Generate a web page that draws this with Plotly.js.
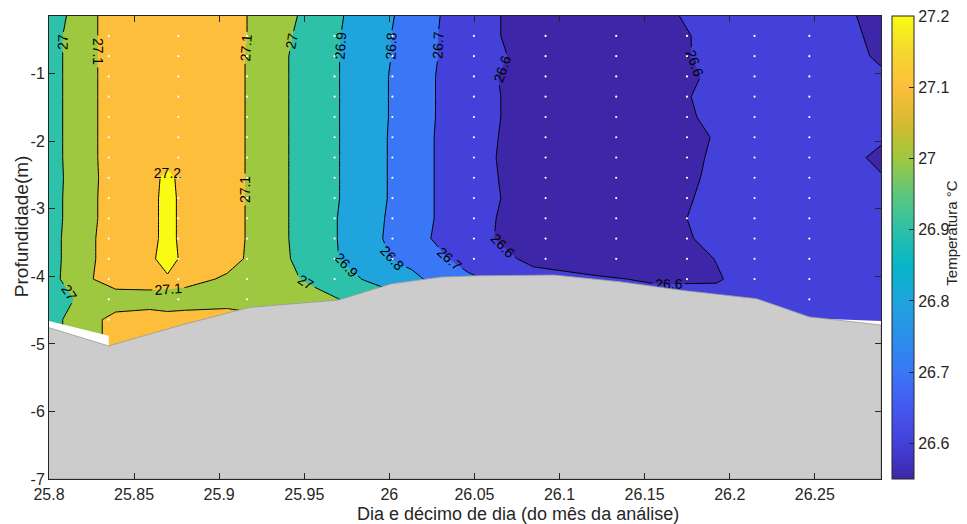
<!DOCTYPE html>
<html>
<head>
<meta charset="utf-8">
<script src="https://cdn.plot.ly/plotly-3.0.1.min.js"></script>
<style>
  html, body { margin: 0; padding: 0; background: #fff; }
  #chart { width: 967px; height: 524px; }
</style>
</head>
<body>
<div id="chart"></div>
<script>
// ---- data ----
const times = [25.8, 25.8181, 25.8392, 25.8591, 25.8696, 25.8801, 25.9047, 25.9257, 25.9561, 25.9854,
               26.0135, 26.0462, 26.0848, 26.1222, 26.1573, 26.1924, 26.2275, 26.2626, 26.2889];
const depths = [-0.145, -0.44, -0.74, -1.04, -1.34, -1.64, -1.94, -2.24, -2.54, -2.84,
                -3.14, -3.44, -3.74, -4.04, -4.34, -4.64, -4.94, -5.24];
const temps = [
  [26.935, 27.05, 27.15, 27.17, 27.18, 27.17, 27.15, 27.06, 26.97, 26.85, 26.77, 26.63, 26.57, 26.55, 26.57, 26.65, 26.65, 26.625, 26.57],
  [26.96, 27.05, 27.15, 27.17, 27.18, 27.17, 27.15, 27.06, 26.955, 26.85, 26.76, 26.63, 26.57, 26.55, 26.56, 26.63, 26.64, 26.63, 26.58],
  [26.96, 27.05, 27.15, 27.17, 27.18, 27.17, 27.15, 27.05, 26.95, 26.85, 26.76, 26.63, 26.58, 26.55, 26.56, 26.63, 26.64, 26.63, 26.59],
  [26.96, 27.05, 27.15, 27.17, 27.18, 27.17, 27.15, 27.05, 26.95, 26.85, 26.75, 26.63, 26.565, 26.55, 26.56, 26.615, 26.64, 26.63, 26.61],
  [26.96, 27.05, 27.15, 27.17, 27.18, 27.17, 27.15, 27.05, 26.95, 26.85, 26.75, 26.63, 26.57, 26.55, 26.56, 26.63, 26.64, 26.63, 26.615],
  [26.96, 27.05, 27.15, 27.17, 27.18, 27.17, 27.15, 27.05, 26.95, 26.85, 26.75, 26.63, 26.57, 26.55, 26.56, 26.62, 26.64, 26.63, 26.62],
  [26.96, 27.05, 27.15, 27.17, 27.18, 27.17, 27.15, 27.05, 26.95, 26.85, 26.745, 26.63, 26.565, 26.55, 26.56, 26.605, 26.64, 26.63, 26.61],
  [26.96, 27.05, 27.15, 27.17, 27.18, 27.17, 27.15, 27.05, 26.95, 26.85, 26.745, 26.63, 26.56, 26.55, 26.56, 26.61, 26.64, 26.63, 26.585],
  [26.96, 27.045, 27.15, 27.18, 27.214, 27.18, 27.15, 27.05, 26.95, 26.85, 26.745, 26.63, 26.565, 26.55, 26.56, 26.615, 26.64, 26.63, 26.605],
  [26.96, 27.05, 27.15, 27.18, 27.22, 27.18, 27.15, 27.05, 26.95, 26.85, 26.745, 26.63, 26.57, 26.55, 26.56, 26.625, 26.64, 26.63, 26.62],
  [26.96, 27.05, 27.15, 27.18, 27.22, 27.18, 27.15, 27.05, 26.95, 26.84, 26.745, 26.63, 26.56, 26.55, 26.57, 26.63, 26.64, 26.63, 26.62],
  [26.96, 27.06, 27.15, 27.18, 27.22, 27.18, 27.15, 27.05, 26.95, 26.84, 26.735, 26.63, 26.555, 26.55, 26.56, 26.625, 26.64, 26.63, 26.62],
  [26.96, 27.06, 27.15, 27.185, 27.23, 27.18, 27.15, 27.04, 26.965, 26.83, 26.775, 26.66, 26.58, 26.55, 26.56, 26.602, 26.64, 26.64, 26.63],
  [26.96, 27.07, 27.15, 27.17, 27.19, 27.15, 27.08, 27.05, 26.98, 26.895, 26.82, 26.72, 26.63, 26.61, 26.59, 26.595, 26.64, 26.65, 26.64],
  [26.96, 27.01, 27.05, 27.04, 27.01, 27.03, 27.05, 27.05, 27.03, 26.97, 26.905, 26.81, 26.71, 26.66, 26.63, 26.62, 26.64, 26.65, 26.65],
  [26.96, 27.05, 27.13, 27.16, 27.16, 27.16, 27.16, 27.12, 27.05, 26.98, 26.91, 26.81, 26.72, 26.68, 26.66, 26.65, 26.65, 26.65, 26.65],
  [26.96, 27.05, 27.13, 27.16, 27.16, 27.16, 27.16, 27.12, 27.05, 26.98, 26.91, 26.81, 26.72, 26.68, 26.66, 26.65, 26.65, 26.65, 26.65],
  [26.96, 27.05, 27.13, 27.16, 27.16, 27.16, 27.16, 27.12, 27.05, 26.98, 26.91, 26.81, 26.72, 26.68, 26.66, 26.65, 26.65, 26.65, 26.65]
];
// drawn isotherms: 26.6 ... 27.2 every 0.1 (the level list is padded on both sides,
// outside the data range, only so that Plotly places labels more densely)
const shownLevels = [26.6, 26.7, 26.8, 26.9, 27.0, 27.1, 27.2];
const levelStep = 0.1;
const levelPadBelow = 45, levelPadAbove = 39;
const colorRange = [26.55, 27.2];

// seabed (bottom) profile
const seabedTimes  = [25.8, 25.8351, 25.8778, 25.9175, 25.9702, 26.0012, 26.0304, 26.052, 26.0971, 26.1357, 26.1731, 26.2158, 26.2468, 26.2889];
const seabedDepths = [-4.76, -5.03, -4.72, -4.46, -4.35, -4.11, -4.01, -3.99, -3.98, -4.08, -4.21, -4.33, -4.60, -4.72];
// lower limit of the measured (coloured) section
const dataBottomTimes  = [25.8, 25.8351, 25.8351, 26.2468, 26.2889];
const dataBottomDepths = [-4.66, -4.88, -5.03, -4.62, -4.66];

// measurement points (white dots)
const dotTimes  = [25.8351, 25.8760, 25.9164, 25.9678, 26.0018, 26.0497, 26.0918, 26.1333, 26.1749, 26.2146, 26.2468];
const dotDepths = [-0.44, -0.74, -1.04, -1.34, -1.64, -1.94, -2.24, -2.54, -2.84, -3.14, -3.44, -3.74, -4.04, -4.34, -4.64];

const xTickVals = [25.8, 25.85, 25.9, 25.95, 26, 26.05, 26.1, 26.15, 26.2, 26.25];
const xTickText = ['25.8', '25.85', '25.9', '25.95', '26', '26.05', '26.1', '26.15', '26.2', '26.25'];
const yTickVals = [-7, -6, -5, -4, -3, -2, -1];
const yTickText = ['-7', '-6', '-5', '-4', '-3', '-2', '-1'];
const cbTickVals = [26.6, 26.7, 26.8, 26.9, 27.0, 27.1, 27.2];
const cbTickText = ['26.6', '26.7', '26.8', '26.9', '27', '27.1', '27.2'];

// ---- styling ----
// colour of the region below 26.6, then of each band above every shown level
const bandColors = ['#3E26A8', '#4440DA', '#3A77F6', '#1FA4DE', '#2CC1A8', '#9DC83F', '#FDBE3C', '#F9FB14'];
const parulaStops = [
  [0.000, '#3E26A8'], [0.077, '#4440DA'], [0.154, '#4558EE'], [0.231, '#3A77F6'],
  [0.308, '#2B8FEA'], [0.385, '#1FA4DE'], [0.460, '#06B6C8'], [0.538, '#2CC1A8'],
  [0.615, '#5EC67D'], [0.692, '#9DC83F'], [0.769, '#D5BB30'], [0.846, '#FDBE3C'],
  [0.923, '#F4D82E'], [1.000, '#F9FB14']
];
const axisColor = '#262626';
const fontFam = 'Liberation Sans, Arial, Helvetica, sans-serif';

// contour level spec and a fill colourscale matched to Plotly's band colouring
const cStart = +(shownLevels[0] - levelPadBelow * levelStep).toFixed(4);
const cEnd = +(shownLevels[shownLevels.length - 1] + levelPadAbove * levelStep).toFixed(4);
const nLev = Math.round((cEnd - cStart) / levelStep) + 1;
const domLo = cStart - levelStep / 2, domSpan = nLev * levelStep;
const fillScale = [[0, bandColors[0]]];
// band colour is sampled at (level + step/2)
const belowLevel = shownLevels[0] - levelStep;
[belowLevel].concat(shownLevels).forEach((L, i) => {
  const s = (L + levelStep / 2 - domLo) / domSpan;
  fillScale.push([s, bandColors[i]]);
});
fillScale.push([1, bandColors[bandColors.length - 1]]);

function seabedAt(t) {
  for (let i = 0; i < seabedTimes.length - 1; i++) {
    if (t >= seabedTimes[i] && t <= seabedTimes[i + 1]) {
      const f = (t - seabedTimes[i]) / (seabedTimes[i + 1] - seabedTimes[i]);
      return seabedDepths[i] + f * (seabedDepths[i + 1] - seabedDepths[i]);
    }
  }
  return seabedDepths[seabedDepths.length - 1];
}
const dx = [], dy = [];
dotTimes.forEach(t => {
  const b = seabedAt(t);
  dotDepths.forEach(d => { if (d > b + 0.12) { dx.push(t); dy.push(d); } });
});

const xMin = times[0], xMax = times[times.length - 1];

const traces = [
  {
    type: 'contour', x: times, y: depths, z: temps,
    autocontour: false,
    contours: {start: cStart, end: cEnd, size: levelStep, coloring: 'fill', showlabels: true,
      labelfont: {family: fontFam, size: 14, color: '#000'}},
    line: {color: '#000', width: 1, smoothing: 0},
    colorscale: fillScale, showscale: false, hoverinfo: 'skip'
  },
  {
    type: 'scatter', mode: 'lines',
    x: dataBottomTimes.concat([xMax, xMin]),
    y: dataBottomDepths.concat([-7, -7]),
    fill: 'toself', fillcolor: '#FFFFFF', line: {width: 0, color: '#FFFFFF'},
    hoverinfo: 'skip', showlegend: false
  },
  {
    type: 'scatter', mode: 'lines',
    x: seabedTimes.concat([xMax, xMin]),
    y: seabedDepths.concat([-7, -7]),
    fill: 'toself', fillcolor: '#CCCCCC', line: {width: 0.8, color: '#9A9A9A'},
    hoverinfo: 'skip', showlegend: false
  },
  {
    type: 'scatter', mode: 'markers', x: dx, y: dy,
    marker: {color: '#FFFFFF', size: 2.2},
    hoverinfo: 'skip', showlegend: false
  },
  {
    type: 'scatter', mode: 'markers', x: [times[1], times[1]], y: [-6.5, -6.5],
    marker: {
      color: colorRange, cmin: colorRange[0], cmax: colorRange[1],
      colorscale: parulaStops, size: 1, opacity: 0, showscale: true,
      colorbar: {
        x: (896 - 49) / 836, xanchor: 'left', xpad: 0,
        y: 0.5, yanchor: 'middle', len: 1, lenmode: 'fraction', ypad: 0,
        thickness: 22, thicknessmode: 'pixels',
        outlinewidth: 1, outlinecolor: axisColor,
        ticks: 'inside', ticklen: 5, tickwidth: 1, tickcolor: axisColor,
        tickvals: cbTickVals, ticktext: cbTickText,
        tickfont: {family: fontFam, size: 16, color: axisColor}
      }
    },
    hoverinfo: 'skip', showlegend: false
  }
];

const layout = {
  width: 967, height: 524,
  margin: {l: 49, r: 82, t: 16, b: 45},
  paper_bgcolor: '#FFFFFF', plot_bgcolor: '#FFFFFF',
  showlegend: false,
  font: {family: fontFam, color: axisColor},
  xaxis: {
    range: [xMin, xMax], tickvals: xTickVals, ticktext: xTickText,
    ticks: 'inside', ticklen: 6, tickcolor: axisColor, tickwidth: 1,
    showline: true, linecolor: axisColor, linewidth: 1, mirror: 'ticks',
    showgrid: false, zeroline: false, ticklabelstandoff: 1,
    tickfont: {size: 16, color: axisColor}
  },
  yaxis: {
    range: [-7, -0.145], tickvals: yTickVals, ticktext: yTickText,
    ticks: 'inside', ticklen: 6, tickcolor: axisColor, tickwidth: 1,
    showline: true, linecolor: axisColor, linewidth: 1, mirror: 'ticks',
    showgrid: false, zeroline: false,
    tickfont: {size: 16, color: axisColor}
  },
  annotations: [
    {
      text: 'Dia e décimo de dia (do mês da análise)', showarrow: false,
      xref: 'paper', yref: 'paper', x: (520 - 49) / 836, y: (479 - 514) / 463,
      xanchor: 'center', yanchor: 'middle',
      font: {family: fontFam, size: 18, color: axisColor}
    },
    {
      text: 'Profundidade(m)', textangle: -90, showarrow: false,
      xref: 'paper', yref: 'paper', x: (21 - 49) / 836, y: (479 - 226) / 463,
      xanchor: 'center', yanchor: 'middle',
      font: {family: fontFam, size: 19, color: axisColor}
    },
    {
      text: 'Temperatura °C', textangle: -90, showarrow: false,
      xref: 'paper', yref: 'paper', x: (955 - 49) / 836, y: (479 - 233) / 463,
      xanchor: 'center', yanchor: 'middle',
      font: {family: fontFam, size: 15, color: axisColor}
    }
  ]
};

Plotly.newPlot('chart', traces, layout, {displayModeBar: false, staticPlot: true});
</script>
</body>
</html>
